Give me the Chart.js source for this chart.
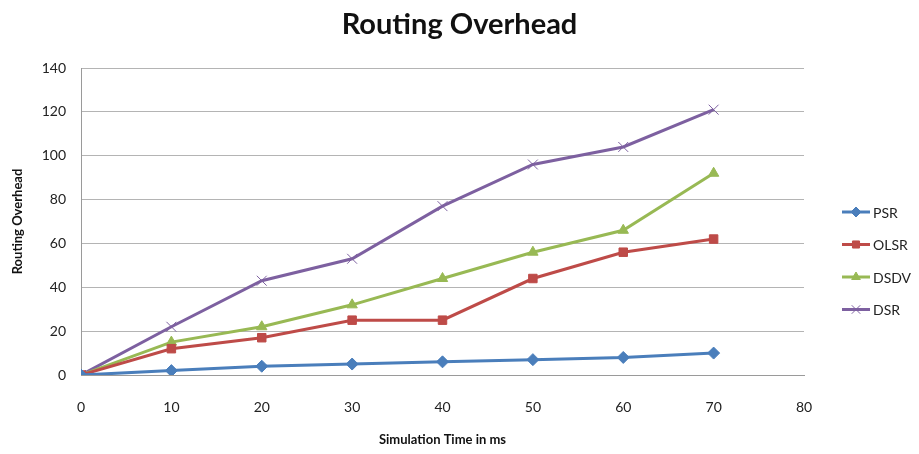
<!DOCTYPE html>
<html>
<head>
<meta charset="utf-8">
<script src="https://cdn.jsdelivr.net/npm/chart.js@4.4.1/dist/chart.umd.min.js"></script>
<style>
  html, body { margin: 0; padding: 0; background: #fff; }
  #wrap { width: 919px; height: 454px; }
</style>
</head>
<body>
<div id="wrap"><canvas id="overheadChart" width="919" height="454"></canvas></div>
<script>
// simulation time (ms)
const times = [0, 10, 20, 30, 40, 50, 60, 70];

const psr  = [0, 2, 4, 5, 6, 7, 8, 10];
const olsr = [0, 12, 17, 25, 25, 44, 56, 62];
const dsdv = [0, 15, 22, 32, 44, 56, 66, 92];
const dsr  = [0, 22, 43, 53, 77, 96, 104, 121];

const seriesNames = ["PSR", "OLSR", "DSDV", "DSR"];
const seriesColors = ["#4a7ebb", "#be4b48", "#98b954", "#7d60a0"];
const seriesMarkers = ["rectRot", "rect", "triangle", "crossRot"];
const seriesValues = [psr, olsr, dsdv, dsr];

const chartTitle = "Routing Overhead";

function toPoints(vals) {
  return vals.map((v, i) => ({ x: times[i], y: v }));
}

/* ===== TITLE + LEGEND (office style: title centred on whole canvas, legend line + marker) ===== */
const decorations = {
  id: "decorations",
  afterDraw(chart) {
    const ctx = chart.ctx;
    ctx.save();

    ctx.fillStyle = "#111";
    ctx.font = "bold 29px Lato";
    ctx.textAlign = "center";
    ctx.textBaseline = "middle";
    ctx.fillText(chartTitle, chart.width / 2, 25);

    chart.data.datasets.forEach((ds, i) => {
      const y = 212 + i * 32.5;
      ctx.strokeStyle = ds.borderColor;
      ctx.fillStyle = ds.borderColor;
      ctx.lineWidth = 3;
      ctx.beginPath();
      ctx.moveTo(842, y);
      ctx.lineTo(870, y);
      ctx.stroke();
      ctx.lineWidth = 1;
      Chart.helpers.drawPoint(ctx, {
        pointStyle: ds.pointStyle,
        radius: ds.pointStyle === "crossRot" ? 6 : 5,
        borderWidth: 1
      }, 856, y);
      ctx.fillStyle = "#222";
      ctx.font = "14px Lato";
      ctx.textBaseline = "middle";
      ctx.textAlign = "left";
      ctx.fillText(ds.label, 873, y + 1);
    });
    ctx.restore();
  }
};

const datasets = seriesNames.map((name, i) => ({
  label: name,
  data: toPoints(seriesValues[i]),
  borderColor: seriesColors[i],
  backgroundColor: seriesColors[i],
  pointBackgroundColor: seriesColors[i],
  pointBorderColor: seriesColors[i],
  pointStyle: seriesMarkers[i],
  pointRadius: seriesMarkers[i] === "crossRot" ? 7 : 6,
  pointBorderWidth: 1,
  borderWidth: 3,
  tension: 0
}));

new Chart(document.getElementById("overheadChart"), {
  type: "line",
  data: { datasets: datasets },
  options: {
    responsive: false,
    animation: false,
    layout: { padding: { top: 68, right: 115, bottom: 0, left: 0 } },
    plugins: {
      legend: { display: false },
      tooltip: { enabled: false },
      title: { display: false }
    },
    scales: {
      x: {
        type: "linear",
        min: 0,
        max: 80,
        ticks: { stepSize: 10, color: "#222", font: { family: "Lato", size: 14 }, padding: 24 },
        grid: { display: false, drawTicks: false },
        border: { display: true, color: "#9a9a9a", width: 1 },
        title: {
          display: true,
          text: "Simulation Time in ms",
          color: "#111",
          font: { family: "Lato", size: 13, weight: "bold", lineHeight: 1.2 },
          padding: { top: 0, bottom: 6 }
        },
        afterFit(scale) { scale.height = 79; }
      },
      y: {
        min: 0,
        max: 140,
        ticks: { stepSize: 20, color: "#222", font: { family: "Lato", size: 14 }, padding: 15 },
        grid: { color: "#b4b4b4", lineWidth: 1, drawTicks: false },
        border: { display: true, color: "#9a9a9a", width: 1 },
        title: {
          display: true,
          text: "Routing Overhead",
          color: "#111",
          font: { family: "Lato", size: 13, weight: "bold", lineHeight: 1.2 },
          padding: { top: 10, bottom: 0 }
        },
        afterFit(scale) { scale.width = 81; }
      }
    }
  },
  plugins: [decorations]
});
</script>
</body>
</html>
